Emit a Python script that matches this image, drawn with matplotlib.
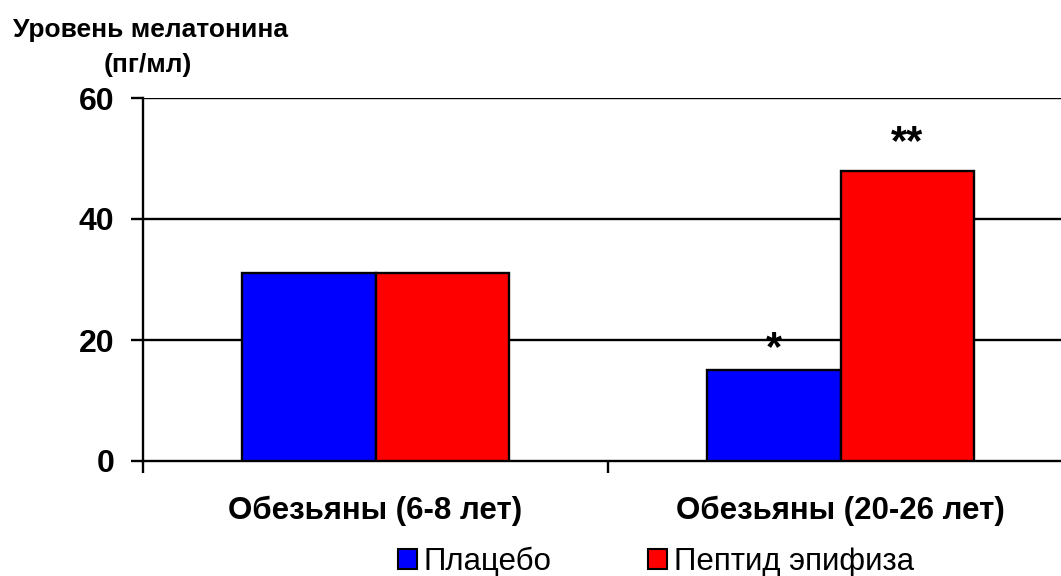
import numpy as np
import matplotlib
matplotlib.use("Agg")
from matplotlib import pyplot as plt
from matplotlib.patches import Patch

categories = ["Обезьяны (6-8 лет)", "Обезьяны (20-26 лет)"]
series_names = ["Плацебо", "Пептид эпифиза"]
placebo = [31, 15]
peptide = [31, 48]
marks = {(0, 1): "*", (1, 1): "**"}  # (series, category) -> label
y_ticks = [0, 20, 40, 60]
colors = ["#0000ff", "#ff0000"]


def main():
    plt.rcParams["font.family"] = ["Liberation Sans", "DejaVu Sans"]
    fig = plt.figure(figsize=(10.61, 5.76), dpi=100)
    ax = fig.add_axes([143 / 1061, 115 / 576, 930 / 1061, 363 / 576])

    x = np.arange(len(categories))
    w = 0.287
    lw = 1.7
    for i, (vals, col) in enumerate(zip((placebo, peptide), colors)):
        bars = ax.bar(x + (i - 0.5) * w, vals, w, color=col,
                      edgecolor="black", linewidth=lw, zorder=3)
        for j, b in enumerate(bars):
            if (i, j) in marks:
                # asterisks sit a little higher above the taller bar
                ax.annotate(marks[(i, j)], (b.get_x() + b.get_width() / 2, vals[j]),
                            xytext=(0, 7 + 5 * i), textcoords="offset points",
                            ha="center", va="baseline", fontsize=30, fontweight="bold")

    ax.set_xlim(-0.5, 1.5)
    ax.set_ylim(0, 60)
    ax.set_yticks(y_ticks)
    ax.set_yticklabels([str(v) for v in y_ticks], fontsize=23, fontweight="bold")
    for v in y_ticks[1:]:
        ax.axhline(v, color="black", linewidth=lw, zorder=1)

    ax.set_xticks([-0.5, 0.5, 1.5])
    ax.set_xticklabels([])
    ax.set_xticks(x, minor=True)
    ax.set_xticklabels(categories, minor=True, fontsize=22.5, fontweight="bold")
    ax.tick_params(axis="x", which="minor", length=0, pad=25)
    ax.tick_params(axis="x", which="major", length=8.5, width=lw, direction="out")
    ax.tick_params(axis="y", length=8.5, width=lw, direction="out", pad=12)

    for s in ("top", "right"):
        ax.spines[s].set_visible(False)
    for s in ("left", "bottom"):
        ax.spines[s].set_linewidth(lw)

    fig.text(13 / 1061, 1 - 37 / 576, "Уровень мелатонина", fontsize=19,
             fontweight="bold", va="baseline", ha="left")
    fig.text(148 / 1061, 1 - 72 / 576, "(пг/мл)", fontsize=19,
             fontweight="bold", va="baseline", ha="center")

    handles = [Patch(facecolor=c, edgecolor="black", linewidth=1.5) for c in colors]
    fig.legend(handles, series_names, loc="center", bbox_to_anchor=(656 / 1061, 1 - 562 / 576),
               ncol=2, frameon=False, fontsize=22.5, handlelength=0.6, handleheight=0.6,
               handletextpad=0.22, columnspacing=3.1, borderpad=0, borderaxespad=0)

    fig.savefig("out.png", dpi=100)


if __name__ == "__main__":
    main()
